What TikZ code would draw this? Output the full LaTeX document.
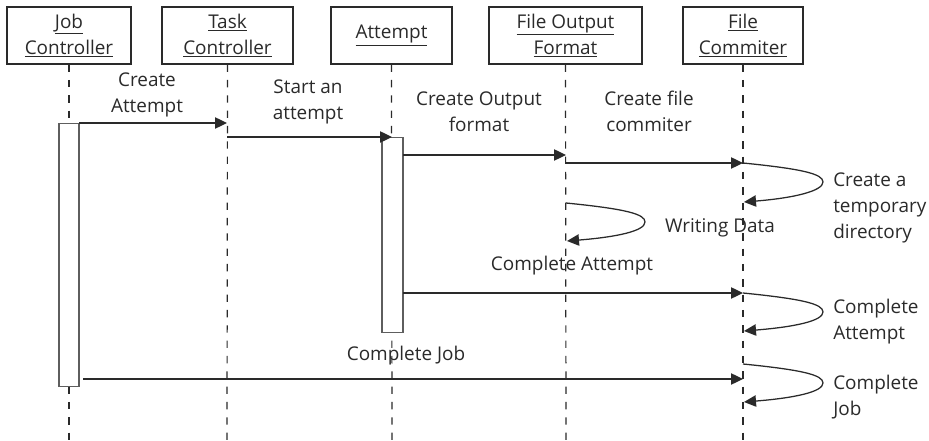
\documentclass[tikz,border=0pt]{standalone}
\usepackage{fontspec}
\setmainfont{Open Sans}
\usetikzlibrary{arrows.meta}
\definecolor{ink}{HTML}{2A2A2A}
\definecolor{barline}{HTML}{5E5E5E}
\begin{document}
\begin{tikzpicture}[x=0.75pt,y=-0.75pt,
  every node/.style={font=\fontsize{14.2}{19.5}\selectfont, text=ink},
  head/.style={draw=ink, line width=0.9pt, minimum height=42.75pt, inner sep=0pt, align=center},
  life/.style={draw=ink, line width=0.9pt, dash pattern=on 5.5pt off 6pt},
  bar/.style={draw=barline, fill=white, line width=1pt},
  msg/.style={draw=ink, line width=0.95pt, -{Triangle[length=9pt,width=8.5pt]}},
  lbl/.style={align=center, inner sep=0pt},
  lblw/.style={align=left, inner sep=0pt, anchor=west}]
\useasboundingbox (0,0) rectangle (929,441);
% headers
\node[head, minimum width=93pt] (job) at (69,35.5) {\underline{Job}\\\underline{Controller}};
\node[head, minimum width=98.25pt] (task) at (227.5,35.5) {\underline{Task}\\\underline{Controller}};
\node[head, minimum width=90.75pt] (att) at (391.5,35.5) {\underline{Attempt}};
\node[head, minimum width=114.75pt] (fof) at (565.5,35.5) {\underline{File Output}\\\underline{Format}};
\node[head, minimum width=90pt] (fc) at (743,35.5) {\underline{File}\\\underline{Commiter}};
% lifeline ends
\coordinate (jobE) at (69,441);
\coordinate (taskE) at (227,441);
\coordinate (attE) at (392,441);
\coordinate (fofE) at (566,441);
\coordinate (fcE) at (743,441);
\draw[life] (job.south) -- (jobE);
\draw[life] (task.south) -- (taskE);
\draw[life] (att.south) -- (attE);
\draw[life] (fof.south) -- (fofE);
\draw[life] (fc.south) -- (fcE);
% activation bars
\node[bar, minimum width=15pt, minimum height=197.25pt, inner sep=0pt, anchor=north] (jobbar) at (69,123) {};
\node[bar, minimum width=15.75pt, minimum height=146.25pt, inner sep=0pt, anchor=north] (attbar) at (392.5,137) {};
% message points
\coordinate (m1s) at (79,123);   \coordinate (m1e) at (227,123);
\coordinate (m2s) at (227,137);  \coordinate (m2e) at (392,137);
\coordinate (m3s) at (403,155);  \coordinate (m3e) at (566,155);
\coordinate (m4s) at (566,163);  \coordinate (m4e) at (743,163);
\coordinate (m7s) at (403,293);  \coordinate (m7e) at (743,293);
\coordinate (m9s) at (83,379);   \coordinate (m9e) at (743,379);
\draw[msg] (m1s) -- (m1e);
\draw[msg] (m2s) -- (m2e);
\draw[msg] (m3s) -- (m3e);
\draw[msg] (m4s) -- (m4e);
\draw[msg] (m7s) -- (m7e);
\draw[msg] (m9s) -- (m9e);
% self loops
\coordinate (l1t) at (823,182); \coordinate (l1e) at (744,202);
\coordinate (l2s) at (566,203); \coordinate (l2t) at (645,222); \coordinate (l2e) at (567,241);
\coordinate (l3t) at (823,312); \coordinate (l3e) at (744,331);
\coordinate (l4s) at (743,364); \coordinate (l4t) at (823,383); \coordinate (l4e) at (744,402);
\draw[msg] (m4e) .. controls +(60,6) and +(0,-8) .. (l1t) .. controls +(0,9) and +(50,-4) .. (l1e);
\draw[msg] (l2s) .. controls +(60,6) and +(0,-8) .. (l2t) .. controls +(0,9) and +(50,-4) .. (l2e);
\draw[msg] (m7e) .. controls +(60,6) and +(0,-8) .. (l3t) .. controls +(0,9) and +(50,-4) .. (l3e);
\draw[msg] (l4s) .. controls +(60,6) and +(0,-8) .. (l4t) .. controls +(0,9) and +(50,-4) .. (l4e);
% labels
\node[lbl] (t1) at (147,95) {Create\\Attempt};
\node[lbl] (t2) at (308,102) {Start an\\attempt};
\node[lbl] (t3) at (479,112) {Create Output\\format};
\node[lbl] (t4) at (649,111) {Create file\\commiter};
\node[lblw] (t5) at (833,208) {Create a\\temporary\\directory};
\node[lbl] (t6) at (720,228) {Writing Data};
\node[lbl] (t7) at (572,266) {Complete Attempt};
\node[lblw] (t8) at (833,322) {Complete\\Attempt};
\node[lbl] (t9) at (406,356) {Complete Job};
\node[lblw] (t10) at (833,397) {Complete\\Job};
\end{tikzpicture}
\end{document}
